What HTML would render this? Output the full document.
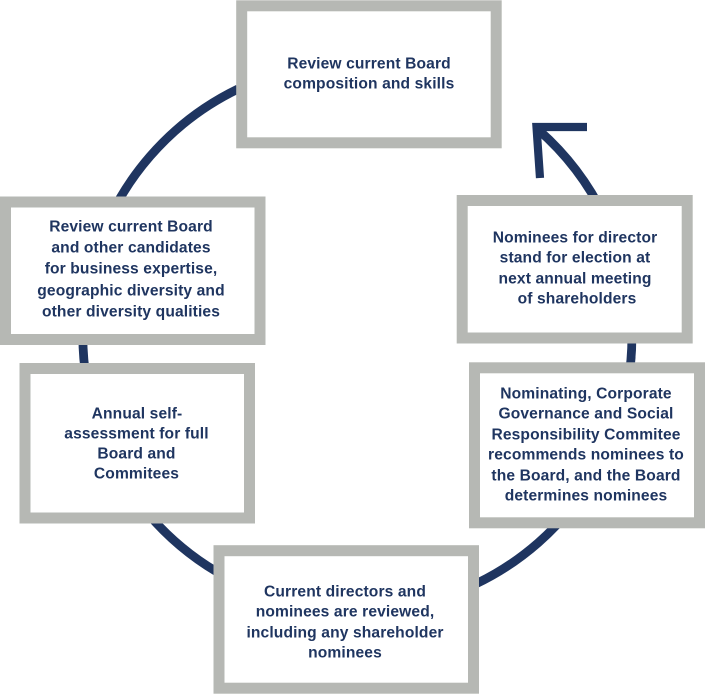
<!DOCTYPE html>
<html>
<head>
<meta charset="utf-8">
<style>
html,body{margin:0;padding:0;background:#fff;width:706px;height:694px;overflow:hidden}
svg{display:block}
text{font-family:"Liberation Sans",sans-serif;font-weight:700;font-size:15.600px;letter-spacing:.12px;fill:#1f3560;text-anchor:middle}
</style>
</head>
<body>
<svg width="706" height="694" viewBox="0 0 706 694" xmlns="http://www.w3.org/2000/svg">
<path d="M537.500 129 A274.500 274.500 0 1 1 238 89" fill="none" stroke="#1f3560" stroke-width="8.800"/>
<path d="M587 127 L536.500 127 L540 178" fill="none" stroke="#1f3560" stroke-width="8.200"/>
<g fill="#fff" stroke="#b6b8b4" stroke-width="11">
<rect x="241.700" y="5.800" width="254.500" height="137"/>
<rect x="462.200" y="200.500" width="225" height="137.500"/>
<rect x="5.500" y="202" width="254.500" height="137.500"/>
<rect x="25" y="368.500" width="224.500" height="149.500"/>
<rect x="474.500" y="367.800" width="225" height="155"/>
<rect x="219" y="550.700" width="254.500" height="137.500"/>
</g>
<g transform="translate(0 .5)">
<text x="369" y="68">Review current Board</text>
<text x="369" y="88">composition and skills</text>
<text x="575" y="242">Nominees for director</text>
<text x="575" y="262">stand for election at</text>
<text x="575" y="283">next annual meeting</text>
<text x="577" y="303">of shareholders</text>
<text x="131" y="231">Review current Board</text>
<text x="131" y="252">and other candidates</text>
<text x="131" y="273">for business expertise,</text>
<text x="131" y="295">geographic diversity and</text>
<text x="131" y="316">other diversity qualities</text>
<text x="137" y="418">Annual self-</text>
<text x="136.500" y="438">assessment for full</text>
<text x="136.500" y="458">Board and</text>
<text x="136.500" y="478">Commitees</text>
<text x="586" y="398">Nominating, Corporate</text>
<text x="586" y="418">Governance and Social</text>
<text x="586" y="439">Responsibility Commitee</text>
<text x="586" y="459">recommends nominees to</text>
<text x="586" y="480">the Board, and the Board</text>
<text x="586" y="500">determines nominees</text>
<text x="345" y="596">Current directors and</text>
<text x="345" y="616">nominees are reviewed,</text>
<text x="345" y="637">including any shareholder</text>
<text x="345" y="657">nominees</text>
</g>
</svg>
</body>
</html>
